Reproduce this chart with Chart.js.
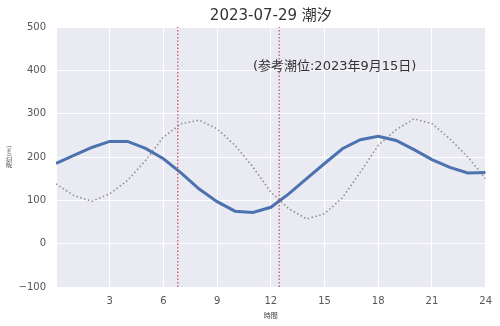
<!DOCTYPE html>
<html>
<head>
<meta charset="utf-8">
<script src="https://cdn.jsdelivr.net/npm/chart.js@4"></script>
<style>
  html, body { margin: 0; padding: 0; background: #fff; }
  #tide { display: block; }
</style>
</head>
<body>
<canvas id="tide" width="500" height="326"></canvas>
<script>
// hourly tide level (labelled 潮位(m) in the source)
const hours = [0,1,2,3,4,5,6,7,8,9,10,11,12,13,14,15,16,17,18,19,20,21,22,23,24];
const tideToday = [185,204,222,236,236,220,196,163,126,97,75,72,84,115,150,185,219,240,248,238,217,194,176,163,164];
const tideRef   = [138,111,98,115,146,192,246,277,285,265,227,177,119,81,57,69,106,165,227,263,288,277,242,200,150];
const markTimes = [6.8, 12.47];
const yTicks = [-100,0,100,200,300,400,500];
const xTicks = [3,6,9,12,15,18,21,24];
const chartTitle = "2023-07-29 潮汐";
const refNote = "(参考潮位:2023年9月15日)";

const FONT = "'DejaVu Sans', 'Noto Sans CJK JP', sans-serif";

const toPts = arr => hours.map((h, i) => ({ x: h, y: arr[i] }));

const datasets = [
  {
    label: "today",
    data: toPts(tideToday),
    borderColor: "#4C72B0",
    borderWidth: 3,
    pointRadius: 0,
    tension: 0,
    order: 2
  },
  {
    label: "ref",
    data: toPts(tideRef),
    borderColor: "rgba(120,120,120,0.8)",
    borderWidth: 1.6,
    borderDash: [1.5, 2.5],
    pointRadius: 0,
    tension: 0,
    order: 3
  }
];
markTimes.forEach(t => {
  datasets.push({
    label: "mark",
    data: [{ x: t, y: yTicks[0] }, { x: t, y: yTicks[yTicks.length - 1] }],
    borderColor: "rgba(196,78,82,0.85)",
    borderWidth: 1.4,
    borderDash: [1.5, 2],
    pointRadius: 0,
    order: 1
  });
});

const bgPlugin = {
  id: "bg",
  beforeDraw(chart) {
    const { ctx, chartArea: a } = chart;
    ctx.save();
    ctx.fillStyle = "#EAEAF2";
    ctx.fillRect(a.left, a.top, a.right - a.left, a.bottom - a.top);
    ctx.restore();
  }
};

// title centred on the plot area, plus the reference-date note
const textPlugin = {
  id: "texts",
  afterDatasetsDraw(chart) {
    const { ctx, chartArea: a, scales: { x, y } } = chart;
    ctx.save();
    ctx.fillStyle = "#333";
    ctx.textBaseline = "alphabetic";
    ctx.font = "15px " + FONT;
    ctx.textAlign = "center";
    ctx.fillText(chartTitle, (a.left + a.right) / 2, 20);
    ctx.font = "13px " + FONT;
    ctx.textAlign = "left";
    ctx.fillText(refNote, x.getPixelForValue(11), y.getPixelForValue(400));
    ctx.restore();
  }
};

new Chart(document.getElementById("tide"), {
  type: "line",
  data: { datasets },
  plugins: [bgPlugin, textPlugin],
  options: {
    responsive: false,
    animation: false,
    layout: { padding: { left: 0, right: 13, top: 27, bottom: 0 } },
    plugins: {
      legend: { display: false },
      tooltip: { enabled: false },
      title: { display: false }
    },
    scales: {
      x: {
        type: "linear",
        min: 0,
        max: 24,
        afterBuildTicks: s => { s.ticks = [0].concat(xTicks).map(v => ({ value: v })); },
        afterFit: s => { s.height = 39; },
        ticks: {
          color: "#555",
          font: { family: FONT, size: 10 },
          padding: 8,
          maxRotation: 0,
          callback: v => (v === 0 ? "" : String(v))
        },
        grid: { color: "#fff", lineWidth: 1, drawTicks: false },
        border: { display: false },
        title: {
          display: true,
          text: "時間",
          color: "#444",
          font: { family: FONT, size: 7 },
          padding: { top: 0, bottom: 6 }
        }
      },
      y: {
        type: "linear",
        min: yTicks[0],
        max: yTicks[yTicks.length - 1],
        afterBuildTicks: s => { s.ticks = yTicks.map(v => ({ value: v })); },
        afterFit: s => { s.width = 56; },
        ticks: {
          color: "#555",
          font: { family: FONT, size: 10 },
          padding: 10,
          callback: v => (v < 0 ? "\u2212" + Math.abs(v) : String(v))
        },
        grid: { color: "#fff", lineWidth: 1, drawTicks: false },
        border: { display: false },
        title: {
          display: true,
          text: "潮位(m)",
          color: "#444",
          font: { family: FONT, size: 6 },
          padding: { top: 6, bottom: 0 }
        }
      }
    }
  }
});
</script>
</body>
</html>
